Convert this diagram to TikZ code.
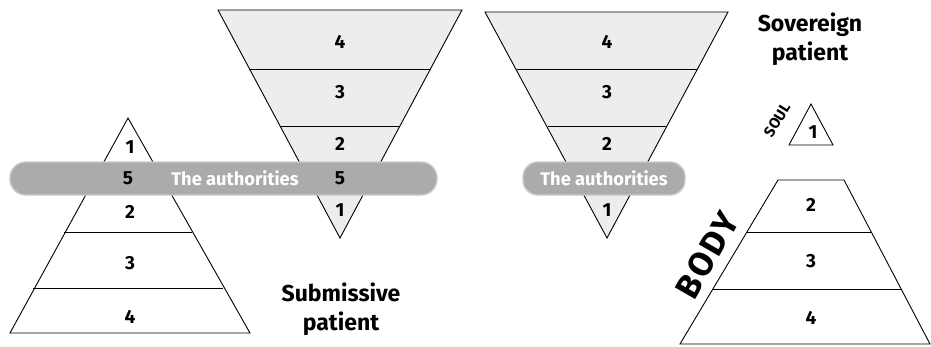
\documentclass[tikz,border=0pt]{standalone}
\usepackage{fontspec}
\setmainfont{Fira Sans}
\begin{document}
\begin{tikzpicture}[x=1pt,y=-1pt,
  edge/.style={line width=0.9pt,line join=miter},
  shade/.style={fill=gray!14},
  num/.style={font=\bfseries\fontsize{19}{19}\selectfont,inner sep=0pt},
  lbl/.style={font=\bfseries\fontsize{23}{29}\selectfont,align=center,inner sep=0pt},
  band/.style={fill=gray!66,draw=gray!42,line width=1.4pt,rounded corners=16pt},
  bandtext/.style={font=\bfseries\fontsize{18.3}{18}\selectfont,text=white,inner sep=0pt}]
\useasboundingbox (0,0) rectangle (931,346);
% left pyramid (submissive)
\draw[edge,fill=white] (128,118) -- (10,333) -- (250,333) -- cycle;
\draw[edge] (64,232) -- (192,232);
\draw[edge] (33,288) -- (223,288);
% middle inverted pyramid
\draw[edge,shade] (218,10) -- (462,10) -- (340,238) -- cycle;
\draw[edge] (250,69) -- (430,69);
\draw[edge] (280,126) -- (400,126);
% left band
\draw[band] (10,162) rectangle (437,195);
\node[num] (l1) at (130,147) {1};
\node[num] (l5) at (128,178) {5};
\node[num] (l2) at (130,212) {2};
\node[num] (l3) at (130,263) {3};
\node[num] (l4) at (130,317) {4};
\node[bandtext] (auth1) at (235,178) {The authorities};
\node[num] (m4) at (340,42) {4};
\node[num] (m3) at (340,92) {3};
\node[num] (m2) at (340,144) {2};
\node[num] (m5) at (340,178) {5};
\node[num] (m1) at (340,210) {1};
\node[lbl] (sub) at (341,309) {Submissive\\patient};
% right inverted pyramid
\draw[edge,shade] (485,12) -- (728,12) -- (607,238) -- cycle;
\draw[edge] (517,69) -- (697,69);
\draw[edge] (548,126) -- (667,126);
\draw[band,rounded corners=15pt] (523,162) rectangle (685,195);
\node[bandtext] (auth2) at (604,178) {The authorities};
\node[num] (r4) at (607,42) {4};
\node[num] (r3) at (607,92) {3};
\node[num] (r2) at (607,144) {2};
\node[num] (r1) at (607,210) {1};
\node[lbl] (sov) at (810,39) {Sovereign\\patient};
% soul
\draw[edge] (811,104) -- (789,145) -- (833,145) -- cycle;
\node[num] (s1) at (813,132) {1};
\node[font=\bfseries\fontsize{15}{15}\selectfont,inner sep=0pt,rotate=58] (soul) at (777,120) {SOUL};
% body
\draw[edge] (778,180) -- (844,180) -- (930,344) -- (680,344) -- cycle;
\draw[edge] (747,232) -- (871,232);
\draw[edge] (713,289) -- (901,289);
\node[num] (b2) at (811,205) {2};
\node[num] (b3) at (811,261) {3};
\node[num] (b4) at (811,318) {4};
\node[font=\bfseries\fontsize{34}{34}\selectfont\addfontfeature{LetterSpace=7},inner sep=0pt,rotate=60] (body) at (707,255) {BODY};
\end{tikzpicture}
\end{document}
